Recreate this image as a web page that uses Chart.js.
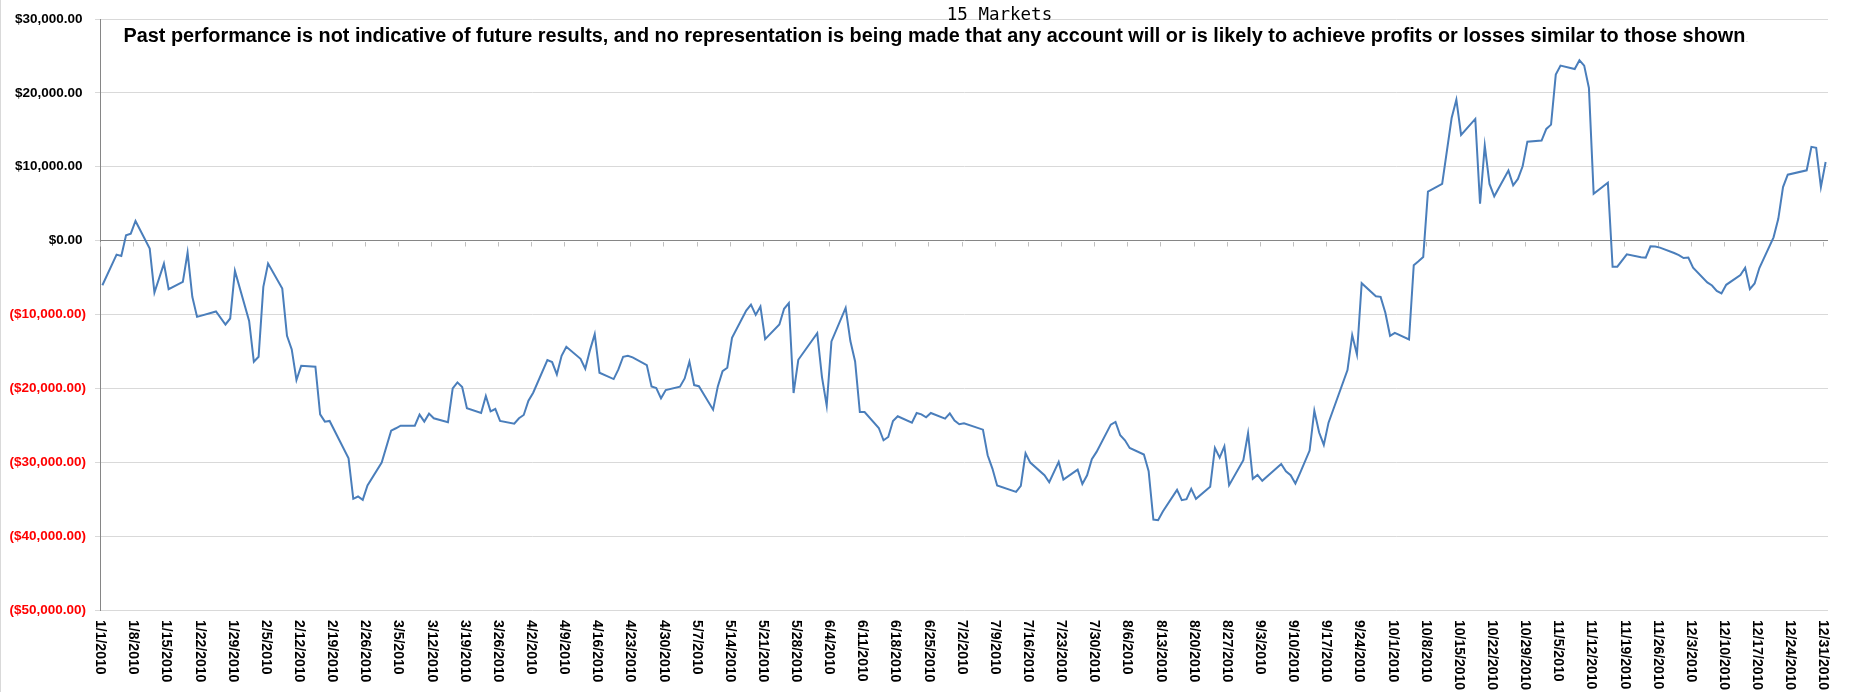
<!DOCTYPE html>
<html><head><meta charset="utf-8">
<script src="https://cdn.jsdelivr.net/npm/chart.js@4.4.1/dist/chart.umd.min.js"></script>
<style>html,body{margin:0;padding:0;background:#fff;}#wrap{position:relative;width:1869px;height:692px;}</style>
</head><body><div id="wrap"><canvas id="c" width="1869" height="692"></canvas></div>
<script>
const titleText = '15 Markets';
const disclaimerText = 'Past performance is not indicative of future results, and no representation is being made that any account will or is likely to achieve profits or losses similar to those shown';

// day of year (0 = 1/1/2010) of each plotted point
const days = [
  0,3,4,5,6,7,10,11,13,14,17,18,19,20,24,26,27,28,31,32,33,34,35,38,39,40,41,42,45,46,47,48,52,53,54,55,56,59,61,62,63,
  66,67,68,69,70,73,74,75,76,77,80,81,82,83,84,87,88,89,90,91,94,95,96,97,98,101,102,103,104,105,108,109,110,111,112,
  115,116,117,118,119,122,123,124,125,126,129,130,131,132,133,136,137,138,139,140,143,144,145,146,147,151,152,153,154,
  157,158,159,160,161,164,165,166,167,168,171,172,173,174,175,178,179,180,181,182,186,187,188,189,193,194,195,196,
  199,200,202,203,206,207,208,209,210,213,214,215,216,217,220,221,222,223,224,227,228,229,230,231,234,235,236,237,238,
  241,242,243,244,245,249,250,251,252,253,255,256,257,258,259,263,264,265,266,269,270,271,272,273,276,277,278,279,280,
  283,285,286,287,290,291,292,293,294,297,298,299,300,301,304,305,306,307,308,311,312,313,314,315,318,319,320,322,
  325,326,327,328,329,332,333,334,335,336,339,340,341,342,343,346,347,348,349,350,353,354,355,356,360,361,362,363,364
];
const values = [
  -6040,-1890,-2070,720,950,2660,-1080,-7030,-3110,-6580,-5590,-1620,-7610,-10320,-9590,-11350,-10540,-4100,-10860,-16400,-15720,-6260,-3110,-6490,-12880,-14730,-18870,-16940,-17070,-23510,-24500,-24410,-29460,-34950,-34640,-35090,-33150,-30050,-25720,-25400,-25050,
  -25050,-23560,-24500,-23420,-24050,-24590,-20000,-19190,-19820,-22700,-23330,-21040,-23110,-22790,-24410,-24770,-24050,-23600,-21670,-20590,-16170,-16440,-18110,-15590,-14370,-15990,-17340,-14820,-12660,-17880,-18740,-17430,-15720,-15590,-15810,
  -16850,-19730,-19950,-21350,-20230,-19770,-18650,-16400,-19550,-19700,-22880,-19730,-17660,-17210,-13150,-9460,-8650,-10050,-8920,-13330,-11350,-9230,-8470,-20630,-16130,-12520,-18470,-22340,-13650,
  -9100,-13600,-16350,-23200,-23200,-25360,-27030,-26580,-24410,-23780,-24640,-23330,-23510,-23920,-23330,-24100,-23380,-24370,-24860,-24730,-25590,-29050,-30860,-33150,-34010,-33200,-28780,-30050,
  -31760,-32700,-29950,-32340,-30990,-32930,-31760,-29590,-28600,-24910,-24550,-26350,-27030,-28060,-28960,-31220,-37750,-37840,-36670,-33740,-35140,-35000,-33600,-34950,-33330,-28060,-29370,-27840,-33110,
  -29730,-26080,-32250,-31710,-32520,-30230,-31220,-31760,-32880,-31440,-28420,-23020,-25950,-27660,-24640,-17520,-12790,-15410,-5770,-7520,-7610,-9770,-12880,-12480,-13380,-3330,-2790,-2210,6640,
  7670,16600,19080,14300,16470,5010,12860,7670,6000,9480,7490,8350,10060,13400,13540,15120,15700,22470,23690,23230,24410,23690,20660,6350,7840,-3530,-3530,-1860,
  -2260,-2300,-770,-800,-950,-1680,-1950,-2350,-2300,-3660,-5650,-6070,-6800,-7150,-5980,-4660,-3670,-6570,-5800,-3710,450,2950,7250,8930,9520,12690,12560,7250,10650
];

const xTickLabels = ['1/1/2010','1/8/2010','1/15/2010','1/22/2010','1/29/2010','2/5/2010','2/12/2010','2/19/2010','2/26/2010',
  '3/5/2010','3/12/2010','3/19/2010','3/26/2010','4/2/2010','4/9/2010','4/16/2010','4/23/2010','4/30/2010','5/7/2010','5/14/2010',
  '5/21/2010','5/28/2010','6/4/2010','6/11/2010','6/18/2010','6/25/2010','7/2/2010','7/9/2010','7/16/2010','7/23/2010','7/30/2010',
  '8/6/2010','8/13/2010','8/20/2010','8/27/2010','9/3/2010','9/10/2010','9/17/2010','9/24/2010','10/1/2010','10/8/2010','10/15/2010',
  '10/22/2010','10/29/2010','11/5/2010','11/12/2010','11/19/2010','11/26/2010','12/3/2010','12/10/2010','12/17/2010','12/24/2010','12/31/2010'];
const xTickDays = [0,7,14,21,28,35,42,49,56,63,70,77,84,91,98,105,112,119,126,133,140,147,154,161,168,175,182,189,196,203,210,
  217,224,231,238,245,252,259,266,273,280,287,294,301,308,315,322,329,336,343,350,357,364];
const yTickValues = [30000,20000,10000,0,-10000,-20000,-30000,-40000,-50000];
const yTickLabels = ['$30,000.00\u2005','$20,000.00\u2005','$10,000.00\u2005','$0.00\u2005','($10,000.00)','($20,000.00)','($30,000.00)','($40,000.00)','($50,000.00)'];

const points = days.map((d, i) => ({ x: d + 0.5, y: values[i] }));

const overlay = {
  id: 'overlay',
  beforeDatasetsDraw(chart) {
    const { ctx, scales: { x, y } } = chart;
    const y0 = Math.round(y.getPixelForValue(0)) + 0.5;
    ctx.save();
    ctx.strokeStyle = '#bfbfbf';
    ctx.lineWidth = 1;
    ctx.beginPath();
    x.ticks.forEach(t => {
      const px = Math.round(x.getPixelForValue(t.value)) + 0.5;
      ctx.moveTo(px, y0 + 0.5);
      ctx.lineTo(px, y0 + 5);
    });
    ctx.stroke();
    ctx.restore();
  },
  afterDraw(chart) {
    const { ctx, scales: { x }, chartArea } = chart;
    ctx.save();
    // left border
    ctx.strokeStyle = '#d9d9d9';
    ctx.lineWidth = 1;
    ctx.beginPath(); ctx.moveTo(0.5, 0); ctx.lineTo(0.5, 692); ctx.stroke();
    // x labels, rotated clockwise
    ctx.fillStyle = '#000';
    ctx.font = 'bold 14px "Liberation Sans", Arial, sans-serif';
    ctx.textAlign = 'left';
    ctx.textBaseline = 'middle';
    x.ticks.forEach((t, i) => {
      const px = x.getPixelForValue(t.value);
      ctx.save();
      ctx.translate(px, chartArea.bottom + 10);
      ctx.rotate(Math.PI / 2);
      ctx.fillText(xTickLabels[i], 0, 0);
      ctx.restore();
    });
    // title
    ctx.font = '17.5px "DejaVu Sans Mono", monospace';
    ctx.textAlign = 'center';
    ctx.textBaseline = 'alphabetic';
    ctx.fillText(titleText, 999.5, 19.5);
    // disclaimer
    ctx.textAlign = 'left';
    ctx.font = 'bold 100px "Liberation Sans", Arial, sans-serif';
    const w = ctx.measureText(disclaimerText).width;
    const size = 100 * 1622 / w;
    ctx.font = 'bold ' + size.toFixed(2) + 'px "Liberation Sans", Arial, sans-serif';
    ctx.fillText(disclaimerText, 123.5, 42.3);
    ctx.fillStyle = '#777';
    ctx.font = '7px "Liberation Sans", Arial, sans-serif';
    ctx.fillText('.', 1746, 42);
    ctx.restore();
  }
};

new Chart(document.getElementById('c'), {
  type: 'line',
  data: {
    datasets: [{
      data: points,
      borderColor: '#4a7ebb',
      borderWidth: 2,
      pointRadius: 0,
      tension: 0,
      fill: false
    }]
  },
  options: {
    responsive: false,
    animation: false,
    devicePixelRatio: 1,
    layout: { padding: { left: 0, right: 41, top: 19, bottom: 82 } },
    plugins: { legend: { display: false }, tooltip: { enabled: false }, title: { display: false } },
    scales: {
      x: {
        type: 'linear',
        min: 0,
        max: 365,
        afterBuildTicks: s => { s.ticks = xTickDays.map(v => ({ value: v })); },
        afterFit: s => { s.height = 0; },
        ticks: { display: false },
        grid: { display: false },
        border: { display: false }
      },
      y: {
        min: -50000,
        max: 30000,
        afterBuildTicks: s => { s.ticks = yTickValues.map(v => ({ value: v })); },
        afterFit: s => { s.width = 100; },
        ticks: {
          padding: 9,
          font: { family: '"Liberation Sans", Arial, sans-serif', size: 13.5, weight: 'bold' },
          color: c => (c.tick && c.tick.value < 0) ? '#ff0000' : '#000000',
          callback: v => yTickLabels[yTickValues.indexOf(v)]
        },
        grid: {
          color: c => (c.tick && c.tick.value === 0) ? '#868686' : '#d9d9d9',
          tickColor: '#d9d9d9',
          tickLength: 5,
          lineWidth: 1
        },
        border: { color: '#868686', width: 1 }
      }
    }
  },
  plugins: [overlay]
});
</script>
</body></html>
